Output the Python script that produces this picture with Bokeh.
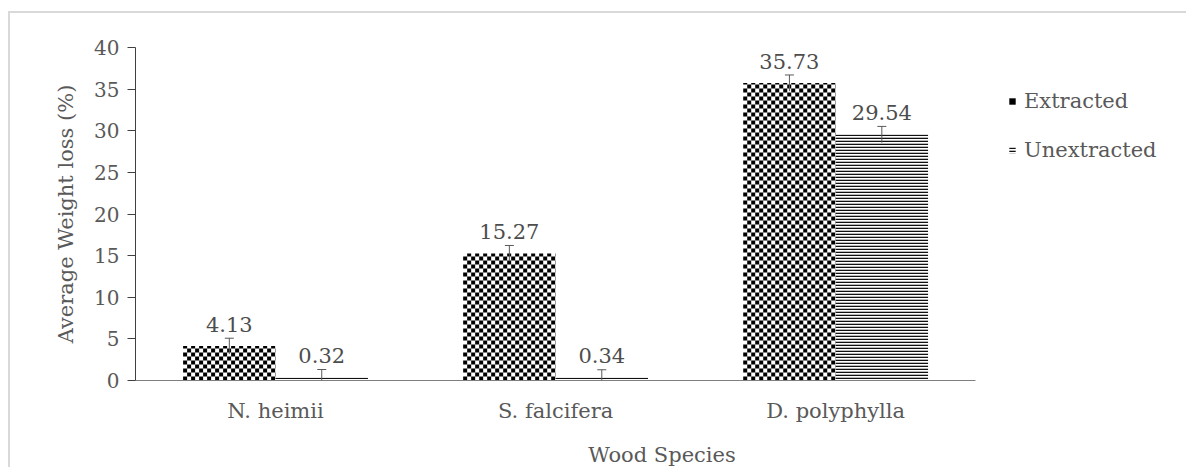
from bokeh.plotting import figure
from bokeh.models import (Range1d, ColumnDataSource, Whisker, TeeHead, LabelSet,
                          Legend, LegendItem, FixedTicker)
from bokeh.core.properties import value
from bokeh.embed import file_html
from bokeh.resources import INLINE

species = ["N. heimii", "S. falcifera", "D. polyphylla"]
extracted = [4.13, 15.27, 35.73]
unextracted = [0.32, 0.34, 29.54]
extracted_err = [0.95, 0.95, 0.97]
unextracted_err = [1.0, 0.95, 0.98]
series_names = ["Extracted", "Unextracted"]
x_title = "Wood Species"
y_title = "Average Weight loss (%)"
y_ticks = [0, 5, 10, 15, 20, 25, 30, 35, 40]

FONT = "DejaVu Serif"
TXT = "#595959"
Y_MAX = 40
BAR_W = 0.33
OFF = BAR_W / 2
N = len(species)
X_END = 3.76            # room on the right of the categories for the legend

# pixel layout used to size the checker cells of the "Extracted" fill
PX_PER_CAT, FRAME_H = 280, 333
CELL_PX = 4
cell_x = CELL_PX / PX_PER_CAT
cell_y = CELL_PX * Y_MAX / FRAME_H

centers = [i + 0.5 for i in range(N)]
src = ColumnDataSource(dict(
    xe=[c - OFF for c in centers],
    xu=[c + OFF for c in centers],
    ext=extracted,
    unx=unextracted,
    ext_lo=[v - e for v, e in zip(extracted, extracted_err)],
    ext_hi=[v + e for v, e in zip(extracted, extracted_err)],
    unx_lo=[max(0, v - e) for v, e in zip(unextracted, unextracted_err)],
    unx_hi=[v + e for v, e in zip(unextracted, unextracted_err)],
    ext_lbl=["%.2f" % v for v in extracted],
    unx_lbl=["%.2f" % v for v in unextracted],
))

# checker cells inside each Extracted bar
ql, qr, qb, qt = [], [], [], []
for c, v in zip(centers, extracted):
    left, right = c - BAR_W, c
    nx = int(BAR_W / cell_x) + 1
    ny = int(v / cell_y) + 1
    for jy in range(ny):
        b = jy * cell_y
        t = min(b + cell_y, v)
        if t <= b:
            continue
        for jx in range(nx):
            if (jx + jy) % 2:
                continue
            l = left + jx * cell_x
            r = min(l + cell_x, right)
            if r <= l:
                continue
            ql.append(l); qr.append(r); qb.append(b); qt.append(t)
chk_src = ColumnDataSource(dict(left=ql, right=qr, bottom=qb, top=qt))

p = figure(x_range=Range1d(0, X_END), y_range=Range1d(0, Y_MAX),
           width=1178, height=456, output_backend="svg", toolbar_location=None,
           min_border_left=125, min_border_top=34, min_border_right=0,
           min_border_bottom=89)
p.styles = {"border-top": "2px solid #d9d9d9", "border-left": "2px solid #d9d9d9",
            "margin-left": "8px", "margin-top": "11px"}
p.outline_line_color = None
p.xgrid.grid_line_color = None
p.ygrid.grid_line_color = None

r1 = p.vbar(x="xe", top="ext", width=BAR_W, source=src,
            fill_color="white", line_color=None)
rq = p.quad(left="left", right="right", bottom="bottom", top="top", source=chk_src,
            fill_color="black", line_color=None)
r2 = p.vbar(x="xu", top="unx", width=BAR_W, source=src,
            fill_color="white", line_color=None, hatch_pattern="horizontal_line",
            hatch_scale=3, hatch_weight=1.6, hatch_color="#111111")

for xc, lo, hi in [("xe", "ext_lo", "ext_hi"), ("xu", "unx_lo", "unx_hi")]:
    w = Whisker(base=xc, lower=lo, upper=hi, source=src,
                line_color="#595959", line_width=1, level="overlay",
                upper_head=TeeHead(size=9, line_color="#595959", line_width=1),
                lower_head=None)
    p.add_layout(w)

for xc, col, top in [("xe", "ext_lbl", "ext"), ("xu", "unx_lbl", "unx")]:
    ls = LabelSet(x=xc, y=top, text=col, source=src,
                  text_align="center", text_baseline="middle", y_offset=22,
                  text_font=value(FONT), text_font_size="21px", text_color="#4d4d4d")
    p.add_layout(ls)

p.yaxis.ticker = FixedTicker(ticks=y_ticks)
p.yaxis.axis_line_color = "#404040"
p.yaxis.major_tick_line_color = "#404040"
p.yaxis.major_tick_out = 8
p.yaxis.major_tick_in = 0
p.yaxis.minor_tick_line_color = None
p.yaxis.major_label_standoff = 8
p.yaxis.axis_label = y_title
p.yaxis.axis_label_standoff = 13

p.xaxis.ticker = FixedTicker(ticks=centers)
p.xaxis.major_label_overrides = {c: s for c, s in zip(centers, species)}
p.xaxis.bounds = (0, N)
p.xaxis.axis_line_color = "#7f7f7f"
p.xaxis.major_tick_line_color = None
p.xaxis.minor_tick_line_color = None
p.xaxis.major_label_standoff = 12
p.xaxis.axis_label = x_title
p.xaxis.axis_label_standoff = 17

for ax in (p.xaxis, p.yaxis):
    ax.major_label_text_font = FONT
    ax.major_label_text_color = TXT
    ax.axis_label_text_font = FONT
    ax.axis_label_text_font_size = "21px"
    ax.axis_label_text_font_style = "normal"
    ax.axis_label_text_color = TXT
p.xaxis.major_label_text_font_size = "21px"
p.yaxis.major_label_text_font_size = "20px"

legend = Legend(items=[LegendItem(label=series_names[0], renderers=[rq]),
                       LegendItem(label=series_names[1], renderers=[r2])],
                location=(873, 212), orientation="vertical",
                glyph_width=8, glyph_height=8, label_standoff=8,
                label_height=36, spacing=13, padding=0, margin=0,
                border_line_color=None, background_fill_alpha=0,
                label_text_font=FONT, label_text_font_size="21px",
                label_text_color=TXT)
p.add_layout(legend, "center")

open("out.html", "w").write(file_html(p, INLINE))
